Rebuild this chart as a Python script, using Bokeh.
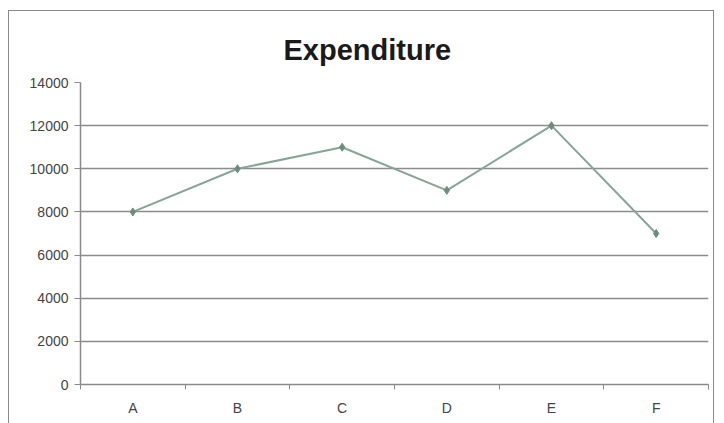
from bokeh.plotting import figure
from bokeh.models import Range1d, FixedTicker, Title
from bokeh.embed import file_html
from bokeh.resources import INLINE

categories = ["A", "B", "C", "D", "E", "F"]
expenditure = [8000, 10000, 11000, 9000, 12000, 7000]
y_ticks = [0, 2000, 4000, 6000, 8000, 10000, 12000, 14000]
title_text = "Expenditure"

x_pos = [i + 0.5 for i in range(len(categories))]

p = figure(width=706, height=418, output_backend="svg", toolbar_location=None,
           x_range=Range1d(0, len(categories)), y_range=Range1d(0, 14000),
           min_border_left=71, min_border_right=7, min_border_top=71, min_border_bottom=45)
p.styles = {"border": "1px solid #8a8a8a", "margin-top": "10px", "margin-left": "8px"}

p.title = Title(text=title_text, align="left", offset=203, vertical_align="top",
                text_font="Liberation Sans", text_font_size="29px",
                text_font_style="bold", text_color="#1a1a1a", standoff=30)

p.outline_line_color = None
p.background_fill_color = "white"
p.border_fill_color = "white"

# y axis
p.yaxis.ticker = FixedTicker(ticks=y_ticks)
p.yaxis.axis_line_color = "#8a8a8a"
p.yaxis.axis_line_width = 1.5
p.yaxis.major_tick_line_color = "#8a8a8a"
p.yaxis.major_tick_out = 6
p.yaxis.major_tick_in = 0
p.yaxis.minor_tick_line_color = None
p.yaxis.major_label_text_font = "Liberation Sans"
p.yaxis.major_label_text_font_size = "14px"
p.yaxis.major_label_text_color = "#444444"
p.yaxis.major_label_standoff = 6

# x axis: labels at category centres, tick marks between categories
p.xaxis.ticker = FixedTicker(ticks=x_pos, minor_ticks=list(range(len(categories) + 1)))
p.xaxis.major_label_overrides = {x: c for x, c in zip(x_pos, categories)}
p.xaxis.axis_line_color = "#8a8a8a"
p.xaxis.axis_line_width = 1.5
p.xaxis.major_tick_line_color = None
p.xaxis.minor_tick_line_color = "#8a8a8a"
p.xaxis.minor_tick_out = 5
p.xaxis.minor_tick_in = 0
p.xaxis.major_label_text_font = "Liberation Sans"
p.xaxis.major_label_text_font_size = "14px"
p.xaxis.major_label_text_color = "#444444"
p.xaxis.major_label_standoff = 9

p.xgrid.grid_line_color = None
p.ygrid.ticker = FixedTicker(ticks=y_ticks)
p.ygrid.grid_line_color = "#8c8c8c"
p.ygrid.grid_line_width = 1.5

p.line(x_pos, expenditure, line_color="#86a597", line_width=2)
p.scatter(x_pos, expenditure, marker="diamond", size=8, fill_color="#6d8c7e",
          line_color="#6d8c7e")

open("out.html", "w").write(file_html(p, INLINE))
